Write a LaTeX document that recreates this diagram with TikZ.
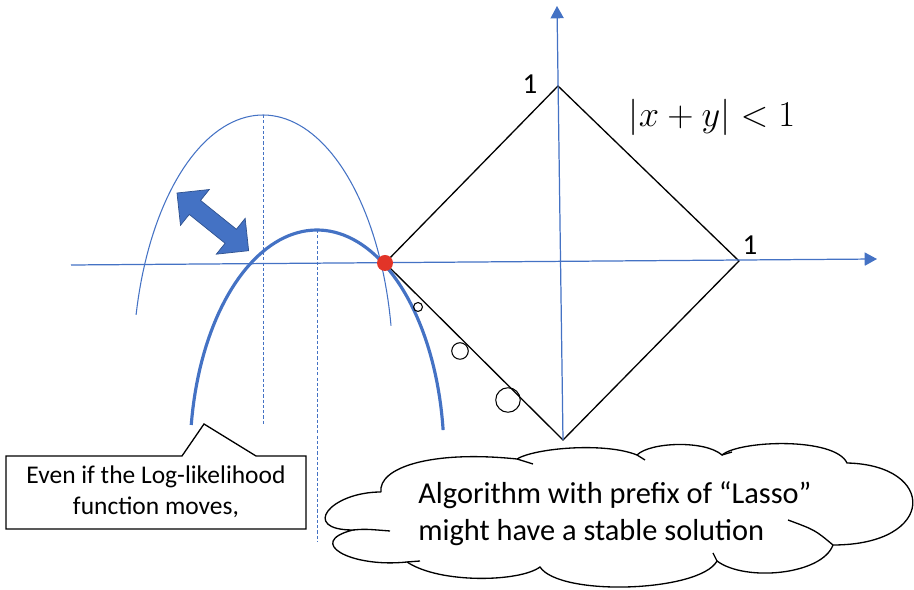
\documentclass[tikz,border=0pt]{standalone}
\usepackage{fontspec}
\setmainfont{Carlito}
\usepackage{amsmath}
\definecolor{officeblue}{RGB}{68,114,196}
\definecolor{darkofficeblue}{RGB}{47,82,143}
\definecolor{dotred}{RGB}{226,52,40}
\usetikzlibrary{arrows.meta}

\begin{document}
\begin{tikzpicture}[x=0.02cm, y=-0.02cm,
  axis/.style={officeblue, line width=0.7pt, -{Triangle[length=7pt, width=7.5pt]}},
  guide/.style={officeblue, line width=0.5pt, dash pattern=on 1.8pt off 1.2pt},
  ring/.style={draw, black, line width=0.6pt, circle, inner sep=0pt},
  outline/.style={black, line width=0.75pt}]
  \useasboundingbox (0,0) rectangle (914,590);

  % Diamond |x|+|y| = 1
  \coordinate (top) at (558,86);
  \coordinate (right) at (739,261);
  \coordinate (bottom) at (563,440);
  \coordinate (left) at (385,263);
  \coordinate (xstart) at (71,265);
  \coordinate (xend) at (877,259);
  \coordinate (yend) at (557,6);
  \draw[outline] (left) -- (top) -- (right) -- (bottom) -- cycle;

  % Axes
  \draw[axis] (xstart) -- (xend);
  \draw[axis] (bottom) -- (yend);

  % Log-likelihood curves
  \draw[officeblue, line width=0.6pt] plot[domain=10:167.5, samples=80] ({263+130*cos(\x)},{370-255*sin(\x)});
  \draw[officeblue, line width=1.8pt] plot[domain=6.7:172, samples=80] ({317+127*cos(\x)},{456.5-226.5*sin(\x)});
  \draw[guide] (263,115) -- (263,425);
  \draw[guide] (317,230) -- (317,542);

  % Moving arrow
  \begin{scope}[shift={(177,193)}, rotate=-38.85]
    \fill[officeblue, draw=darkofficeblue, line width=0.4pt]
      (0,0) -- (23,23) -- (23,9) -- (69,9) -- (69,23) -- (92,0)
      -- (69,-23) -- (69,-9) -- (23,-9) -- (23,-23) -- cycle;
  \end{scope}

  % Solutions along the edge
  \node[ring, minimum size=9pt*0.567] (sol1) at (418,307) {};
  \node[ring, minimum size=16.6pt*0.567] (sol2) at (460,351) {};
  \node[ring, minimum size=24.6pt*0.567] (sol3) at (508,400) {};
  \fill[dotred] (left) circle (8);

  % Labels
  \node[font=\fontsize{16.5}{19}\selectfont] (one-y) at (530,84) {1};
  \node[font=\fontsize{16.5}{19}\selectfont] (one-x) at (750,245) {1};
  \node[font=\fontsize{20.5}{24}\selectfont] (cond) at (712,117) {$|x+y|<1$};

  % Callout
  \draw[outline, fill=white] (6,456) -- (182,456) -- (204,424) -- (256,456)
    -- (306,456) -- (306,529) -- (6,529) -- cycle;
  \node[align=center, font=\fontsize{14.5}{17.5}\selectfont] (note) at (156,492)
    {Even if the Log-likelihood\\function moves,};

  % Cloud
  \draw[outline] (381,492) .. controls (378,468) and (430,450) .. (517,459)
    .. controls (535,448) and (605,442) .. (637,455)
    .. controls (650,442) and (705,440) .. (722,455)
    .. controls (740,440) and (835,437) .. (847,463)
    .. controls (937,465) and (937,545) .. (833,545)
    .. controls (822,575) and (745,582) .. (717,561)
    .. controls (700,592) and (560,597) .. (540,567)
    .. controls (520,582) and (440,584) .. (407,562)
    .. controls (350,568) and (305,542) .. (353,530)
    .. controls (300,530) and (330,492) .. (381,492);
  \draw[outline] (353,530) .. controls (365,529) .. (390,531);
  \draw[outline] (517,459) -- (533,464);
  \draw[outline] (637,455) -- (645,460);
  \draw[outline] (722,455) -- (732,452);
  \draw[outline] (833,545) .. controls (815,530) .. (788,520);
  \draw[outline] (717,561) -- (713,553);
  \draw[outline] (407,562) -- (420,561);
  \node[align=left, anchor=west, inner sep=0pt, font=\fontsize{17.3}{21}\selectfont] (msg) at (418,514)
    {Algorithm with prefix of “Lasso”\\might have a stable solution};
\end{tikzpicture}
\end{document}
